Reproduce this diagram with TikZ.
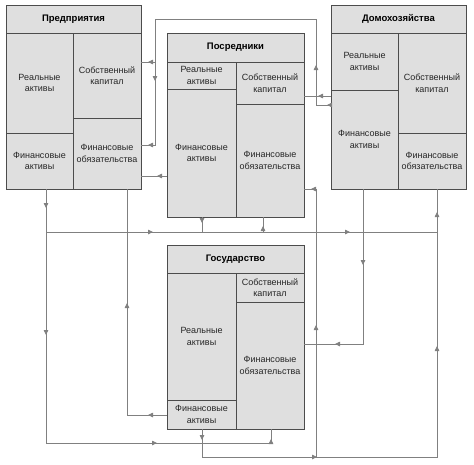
\documentclass[tikz,border=0pt]{standalone}
\usepackage{fontspec}
\setmainfont{Liberation Sans}
\usetikzlibrary{arrows.meta,decorations.markings}

\tikzset{
  cell/.style={draw=black!70,fill=gray!25,line width=1pt,inner sep=1pt,outer sep=0pt,
    align=center,font=\fontsize{9}{11.5}\selectfont,text=black!85},
  head/.style={cell,font=\fontsize{9.5}{11.5}\selectfont\bfseries,text=black},
  flow/.style={color=black!50,line width=0.8pt},
  flowtip/.style={postaction={decorate,decoration={markings,
      mark=at position #1 with {\arrow{Triangle[length=5pt,width=4.5pt]}}}}},
}
% one cell of a balance sheet: [style]{name}{x1}{y1}{x2}{y2}{text}
\newcommand{\boxcell}[7][cell]{%
  \node[#1,minimum width={(#5-#3)*1pt},minimum height={(#6-#4)*1pt}]
    (#2) at ({(#3+#5)/2},{(#4+#6)/2}) {#7};}

\begin{document}
\begin{tikzpicture}[x=1pt,y=-1pt]
\useasboundingbox (0,0) rectangle (474,464);
% Предприятия
\boxcell[head]{F}{6}{5}{141}{33}{Предприятия}
\boxcell{F-RA}{6}{33}{73}{133}{Реальные\\активы}
\boxcell{F-FA}{6}{133}{73}{189}{Финансовые\\активы}
\boxcell{F-SK}{73}{33}{141}{118}{Собственный\\капитал}
\boxcell{F-FO}{73}{118}{141}{189}{Финансовые\\обязательства}
% Посредники
\boxcell[head]{I}{167}{33}{304}{62}{Посредники}
\boxcell{I-RA}{167}{62}{236}{89}{Реальные\\активы}
\boxcell{I-FA}{167}{89}{236}{217}{Финансовые\\активы}
\boxcell{I-SK}{236}{62}{304}{104}{Собственный\\капитал}
\boxcell{I-FO}{236}{104}{304}{217}{Финансовые\\обязательства}
% Домохозяйства
\boxcell[head]{H}{331}{5}{466}{33}{Домохозяйства}
\boxcell{H-RA}{331}{33}{398}{90}{Реальные\\активы}
\boxcell{H-FA}{331}{90}{398}{189}{Финансовые\\активы}
\boxcell{H-SK}{398}{33}{466}{133}{Собственный\\капитал}
\boxcell{H-FO}{398}{133}{466}{189}{Финансовые\\обязательства}
% Государство
\boxcell[head]{G}{167}{245}{304}{273}{Государство}
\boxcell{G-RA}{167}{273}{236}{400}{Реальные\\активы}
\boxcell{G-FA}{167}{400}{236}{429}{Финансовые\\активы}
\boxcell{G-SK}{236}{273}{304}{302}{Собственный\\капитал}
\boxcell{G-FO}{236}{302}{304}{429}{Финансовые\\обязательства}

% households -> firms
\draw[flow,flowtip=4pt,flowtip=55pt,flowtip=324pt,flowtip=395pt]
  (H-FA.west |- 0,105) -- (316,105) -- (316,19) -- (155,19) -- (155,145)
  -- (F-FO.east |- 0,145);
\coordinate (j1) at (155,62);
\draw[flow,flowtip=7pt] (j1) -- (F-SK.east |- j1);
% households -> intermediaries
\draw[flow,flowtip=13pt] (H-FA.west |- 0,96) -- (I-SK.east |- 0,96);
% intermediaries -> firms
\draw[flow,flowtip=10pt] (I-FA.west |- 0,176) -- (F-FO.east |- 0,176);
% firms fin. assets
\draw[flow,flowtip=19pt,flowtip=146pt,flowtip=365pt,flowtip=483pt]
  (F-FA.south -| 46,0) -- (46,443) -- (271,443) -- (G-FO.south -| 271,0);
\coordinate (j2) at (46,232);
\coordinate (j3) at (437,232);
\draw[flow,flowtip=107pt,flowtip=304pt] (j2) -- (j3);
% intermediaries and the middle rail
\draw[flow,flowtip=6pt] (I-FA.south -| 202,0) -- (202,232);
\draw[flow,flowtip=6pt] (263,232) -- (I-FO.south -| 263,0);
% state -> firms
\draw[flow,flowtip=19pt,flowtip=152pt]
  (G-FA.west |- 0,415) -- (127,415) -- (F-FO.south -| 127,0);
% state -> households, intermediaries
\draw[flow,flowtip=11pt,flowtip=143pt,flowtip=374pt,flowtip=508pt]
  (G-FA.south -| 202,0) -- (202,457) -- (437,457) -- (H-FO.south -| 437,0);
\coordinate (j4) at (316,457);
\draw[flow,flowtip=132pt,flowtip=273pt]
  (j4) -- (316,189) -- (I-FO.east |- 0,189);
% households -> state
\draw[flow,flowtip=76pt,flowtip=183pt]
  (H-FA.south -| 363,0) -- (363,344) -- (G-FO.east |- 0,344);
\end{tikzpicture}
\end{document}
